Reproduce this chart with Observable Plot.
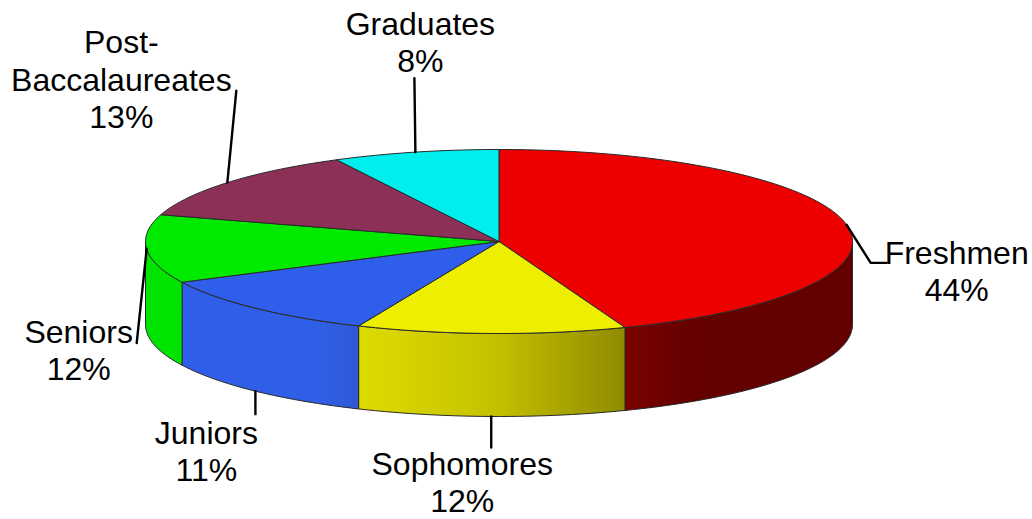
<!DOCTYPE html>
<html>
<head>
<meta charset="utf-8">
<style>html,body{margin:0;padding:0;background:#fff}svg{display:block}</style>
<script src="https://cdn.jsdelivr.net/npm/d3@7"></script>
<script src="https://cdn.jsdelivr.net/npm/@observablehq/plot@0.6"></script>
</head>
<body>
<div id="chart"></div>
<script>
// Data: clockwise from twelve o'clock
const categories = ["Freshmen", "Sophomores", "Juniors", "Seniors", "Post-\nBaccalaureates", "Graduates"];
const sliceShares = [44.2, 12.3, 11.2, 12.0, 12.7, 7.6];   // slice sweep
const printedPercent = ["44%", "12%", "11%", "12%", "13%", "8%"];

// Styles
const topColors = ["#ee0000", "#eeee00", "#2f5fea", "#00ea00", "#8d3058", "#00eeee"];
const wallStops = [
  [[0, "#7c0000"], [0.3, "#640000"], [1, "#620000"]],
  [[0, "#dedb00"], [0.5, "#c6c200"], [1, "#8f8b00"]],
  [[0, "#2f5fea"], [0.8, "#2f5fe6"], [1, "#3058d6"]],
  [[0, "#00e400"], [1, "#00e400"]],
  [[0, "#6a2040"], [1, "#6a2040"]],
  [[0, "#00b0b0"], [1, "#00b0b0"]]
];

// Layout of the tilted disc, in pixels
const width = 1032, height = 519;
const cx = 498.5, cy = 241, rx = 353.5, ry = 92, depth = 83;
const wallHeight = depth / ry;       // in y-scale units

// Leader routes and label anchors, as pixel offsets from the slice's rim point
const leaderBends = [[[24, 38], [40, 38]], [[0, 31]], [[0, 23]], [[-10, 94]], [[9, -92]], [[-1, -74]]];
const labelOffset = [[110, 76], [-29, 96], [-49, 90], [-68, 131], [-106, -55], [5, -80]];
const leaderFromBase = [false, true, true, false, false, false];

const deg = Math.PI / 180;
const pt = (a, drop = 0) => ({x: Math.sin(a * deg), y: Math.cos(a * deg) - drop});
const arc = (a0, a1, drop = 0) => {
  const n = Math.max(2, Math.ceil(Math.abs(a1 - a0) / 1.5));
  return d3.range(n + 1).map(i => pt(a0 + (a1 - a0) * i / n, drop));
};

const total = d3.sum(sliceShares);
let running = 0;
const slices = sliceShares.map((v, i) => {
  const a0 = running / total * 360;
  running += v;
  const a1 = running / total * 360;
  return {i, a0, a1, mid: (a0 + a1) / 2};
});

const topMarks = slices.map(s => {
  const pts = [{x: 0, y: 0}, ...arc(s.a0, s.a1), {x: 0, y: 0}];
  return Plot.line(pts, {x: "x", y: "y", fill: topColors[s.i], stroke: "#2a2a2a", strokeWidth: 1, strokeLinejoin: "round"});
});

const wallMarks = slices.filter(s => s.a1 > 90 && s.a0 < 270).map(s => {
  const a0 = Math.max(90, s.a0), a1 = Math.min(270, s.a1);
  const top = arc(a0, a1), bot = arc(a1, a0, wallHeight);
  const pts = [...top, ...bot, top[0]];
  return Plot.line(pts, {x: "x", y: "y", fill: `url(#wall${s.i})`, stroke: "#2a2a2a", strokeWidth: 1, strokeLinejoin: "round"});
});

const gradients = () => {
  const defs = d3.create("svg:defs");
  wallStops.forEach((stops, i) => {
    const g = defs.append("linearGradient").attr("id", `wall${i}`);
    stops.forEach(([o, c]) => g.append("stop").attr("offset", o).attr("stop-color", c));
  });
  return defs.node();
};

const toUnits = ([dx, dy], from) => ({x: from.x + dx / rx, y: from.y - dy / ry});
const rims = slices.map(s => pt(s.mid, leaderFromBase[s.i] ? wallHeight : 0));

const leaderMarks = slices.map(s => Plot.line(
  [rims[s.i], ...leaderBends[s.i].map(b => toUnits(b, rims[s.i]))],
  {x: "x", y: "y", stroke: "#000", strokeWidth: 2.4, strokeLinejoin: "miter"}
));

const labels = slices.map(s => ({
  ...toUnits(labelOffset[s.i], rims[s.i]),
  text: `${categories[s.i]}\n${printedPercent[s.i]}`
}));

const chart = Plot.plot({
  width, height,
  margin: 0,
  style: {background: "#fff", overflow: "visible"},
  x: {domain: [-1, 1], range: [cx - rx, cx + rx], axis: null},
  y: {domain: [-1, 1], range: [cy + ry, cy - ry], axis: null},
  marks: [
    gradients,
    ...wallMarks,
    ...topMarks,
    ...leaderMarks,
    Plot.text(labels, {
      x: "x", y: "y", text: "text",
      textAnchor: "middle", lineAnchor: "bottom", lineHeight: 1.16,
      fontFamily: "Liberation Sans", fontSize: 32, fill: "#000"
    })
  ]
});
document.getElementById("chart").append(chart);
</script>
</body>
</html>
